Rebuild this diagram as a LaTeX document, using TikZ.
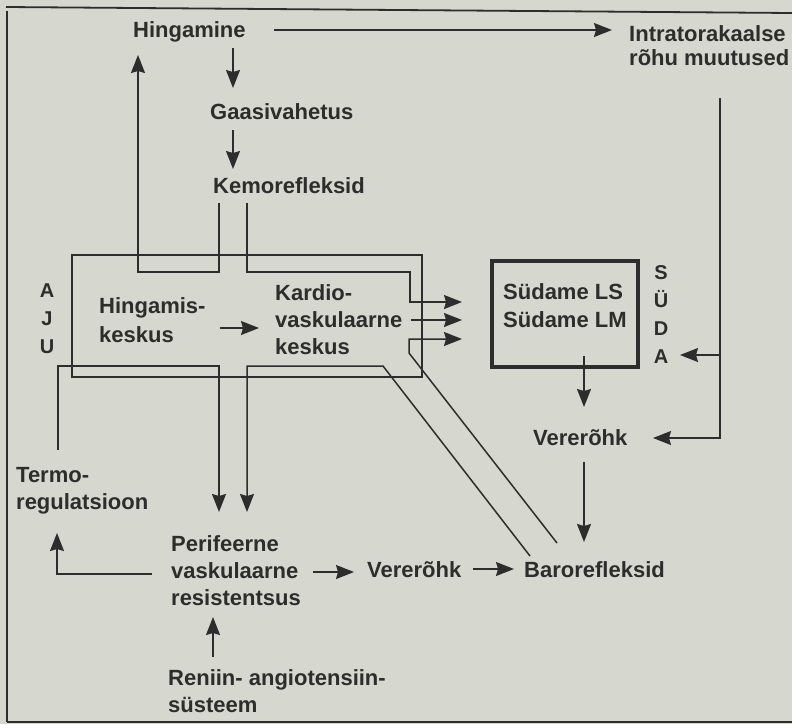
\documentclass[tikz,border=0pt]{standalone}
\usepackage{fontspec}
\setmainfont{Liberation Sans}
\usetikzlibrary{arrows.meta}
\definecolor{bg}{RGB}{214,215,207}
\definecolor{ink}{RGB}{45,45,45}
\begin{document}
\begin{tikzpicture}[x=1pt,y=-1pt,
  lbl/.style={font=\fontsize{22}{27}\selectfont\bfseries, text=ink, inner sep=0pt, align=left},
  vlbl/.style={font=\fontsize{20}{28}\selectfont\bfseries, text=ink, inner sep=0pt, align=center},
  ln/.style={draw=ink, line width=1.5pt},
  arr/.style={ln, -{Stealth[length=18pt,width=14pt,inset=2pt]}},
  frame/.style={draw=ink, line width=1.8pt}
]
\fill[bg] (0,0) rectangle (792,724);
\useasboundingbox (0,0) rectangle (792,724);

% outer frame
\draw[frame] (6,7) -- (792,13);
\draw[frame, line width=1.4pt] (7,11) -- (7,722);
\draw[frame] (7,722) -- (792,722);

% nodes
\node[lbl, anchor=base west] (hing) at (133,37) {Hingamine};
\node[lbl, anchor=base west] (gaas) at (210,119) {Gaasivahetus};
\node[lbl, anchor=base west] (kemo) at (213,193) {Kemorefleksid};
\node[lbl, anchor=north west, font=\fontsize{22}{24}\selectfont\bfseries] (intra) at (629,25) {Intratorakaalse\\rõhu muutused};
\node[lbl, anchor=north west, font=\fontsize{22}{29}\selectfont\bfseries] (hk) at (99,297) {Hingamis-\\keskus};
\node[lbl, anchor=north west] (kv) at (275,284) {Kardio-\\vaskulaarne\\keskus};
\node[vlbl, anchor=north] (aju) at (47,284) {A\\J\\U};
\node[lbl, anchor=north west, font=\fontsize{22}{28}\selectfont\bfseries] (sud) at (503,283) {Südame LS\\Südame LM};
\node[vlbl, anchor=north] (suda) at (661,265) {S\\Ü\\D\\A};
\node[lbl, anchor=base west] (verR) at (533,445) {Vererõhk};
\node[lbl, anchor=north west] (perif) at (171,535) {Perifeerne\\vaskulaarne\\resistentsus};
\node[lbl, anchor=north west] (termo) at (16,467) {Termo-\\regulatsioon};
\node[lbl, anchor=north west] (ren) at (168,669) {Reniin- angiotensiin-\\süsteem};
\node[lbl, anchor=base west] (verB) at (367,577) {Vererõhk};
\node[lbl, anchor=base west] (baro) at (524,577) {Barorefleksid};

% brain box and heart box
\draw[ln, line width=1.3pt] (72,255) rectangle (422,377);
\draw[draw=ink, line width=3.5pt] (492,261) rectangle (638,367);

% coordinates
\coordinate (hiA) at (274,30);  \coordinate (inA) at (612,30);
\coordinate (hg1) at (233,48);  \coordinate (hg2) at (233,88);
\coordinate (gk1) at (233,130); \coordinate (gk2) at (233,169);
\coordinate (kl1) at (219,203); \coordinate (kl2) at (219,272);
\coordinate (kl3) at (138,272); \coordinate (kl4) at (138,55);
\coordinate (kr1) at (247,203); \coordinate (kr2) at (247,272);
\coordinate (kr3) at (410,272); \coordinate (kr4) at (410,302);
\coordinate (kr5) at (462,302);
\coordinate (km1) at (411,320); \coordinate (km2) at (462,320);
\coordinate (br1) at (557,543); \coordinate (br2) at (409,353);
\coordinate (br3) at (409,339); \coordinate (br4) at (462,339);
\coordinate (bl1) at (530,556); \coordinate (bl2) at (383,366);
\coordinate (bl3) at (247,366); \coordinate (bl4) at (247,512);
\coordinate (tm1) at (58,450);  \coordinate (tm2) at (58,366);
\coordinate (tm3) at (219,366); \coordinate (tm4) at (219,512);
\coordinate (hd1) at (584,356); \coordinate (hd2) at (584,407);
\coordinate (iv1) at (720,98);  \coordinate (iv2) at (720,438);
\coordinate (iv3) at (653,438); \coordinate (iv4) at (720,355);
\coordinate (iv5) at (680,355);
\coordinate (vb1) at (584,462); \coordinate (vb2) at (584,542);
\coordinate (pv1) at (313,572); \coordinate (pv2) at (354,572);
\coordinate (vbb1) at (473,569); \coordinate (vbb2) at (514,569);
\coordinate (pt1) at (152,574); \coordinate (pt2) at (57,574);
\coordinate (pt3) at (57,533);
\coordinate (rp1) at (213,657); \coordinate (rp2) at (213,617);
\coordinate (hk1) at (220,328); \coordinate (hk2) at (259,328);

% connectors
\draw[arr] (hiA) -- (inA);
\draw[arr] (hg1) -- (hg2);
\draw[arr] (gk1) -- (gk2);
\draw[arr] (kl1) -- (kl2) -- (kl3) -- (kl4);
\draw[arr] (kr1) -- (kr2) -- (kr3) -- (kr4) -- (kr5);
\draw[arr] (km1) -- (km2);
\draw[arr] (br1) -- (br2) -- (br3) -- (br4);
\draw[arr] (bl1) -- (bl2) -- (bl3) -- (bl4);
\draw[arr] (tm1) -- (tm2) -- (tm3) -- (tm4);
\draw[arr] (hd1) -- (hd2);
\draw[arr] (iv1) -- (iv2) -- (iv3);
\draw[arr] (iv4) -- (iv5);
\draw[arr] (vb1) -- (vb2);
\draw[arr] (pv1) -- (pv2);
\draw[arr] (vbb1) -- (vbb2);
\draw[arr] (pt1) -- (pt2) -- (pt3);
\draw[arr] (rp1) -- (rp2);
\draw[arr] (hk1) -- (hk2);
\end{tikzpicture}
\end{document}
